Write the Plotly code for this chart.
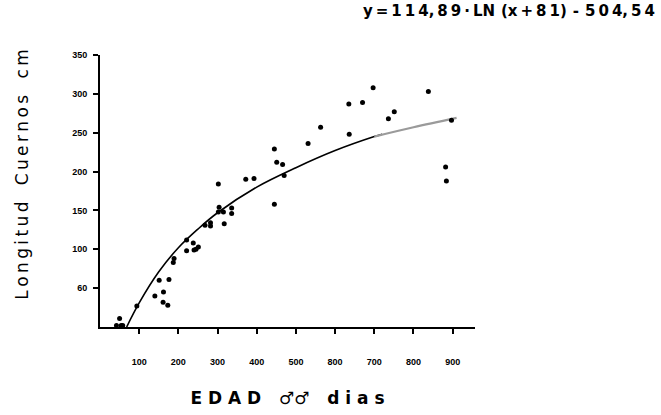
import plotly.graph_objects as go

# observed points (age in days, horn length in cm)
age_days = [42, 50, 54, 58, 94, 140, 151, 162, 161, 173, 176, 187, 189, 221, 221,
            238, 240, 245, 251, 268, 282, 282, 302, 302, 304, 315, 317, 336, 336,
            372, 393, 445, 445, 451, 466, 470, 531, 563, 636, 635, 670, 697, 736,
            751, 838, 882, 884, 897]
horn_cm = [2, 11, 2, 2, 27, 40, 60, 45, 32, 28, 61, 83, 88, 98, 112,
           108, 99, 100, 103, 131, 134, 130, 184, 148, 154, 148, 133, 153, 146,
           190, 191, 158, 229, 212, 209, 195, 236, 257, 248, 287, 289, 308, 268,
           277, 303, 206, 188, 266]

# fitted curve as drawn
curve_x = [68, 100, 150, 200, 250, 300, 400, 500, 600, 700, 720]
curve_y = [0, 31, 71, 102, 126, 147, 180, 205, 227, 245, 248]
curve_gray_x = [700, 800, 910]
curve_gray_y = [245, 257, 269]

x_tickvals = [100, 200, 300, 400, 500, 600, 700, 800, 900]
x_ticktext = ["100", "200", "300", "400", "500", "800", "700", "800", "900"]
y_tickvals = [50, 100, 150, 200, 250, 300, 350]
y_ticktext = ["60", "100", "150", "200", "250", "300", "350"]

T = "\u2009"
equation = ("y" + T + "=" + T + "1" + T + "1" + T + "4," + T + "8" + T + "9" + T + "·" + T +
            "LN" + T + T + "(x" + T + "+" + T + "8" + T + "1)" + T + T + "-" + T + T +
            "5" + T + "0" + T + "4," + T + "5" + T + "4")
x_title = "E D A D   ♂♂   d i a s"
y_title = T.join("Longitud") + "   " + T.join("Cuernos") + "   " + T.join("cm")

fig = go.Figure()
fig.add_trace(go.Scatter(x=curve_x, y=curve_y, mode="lines",
                         line=dict(color="black", width=1.6, shape="spline"),
                         hoverinfo="skip"))
fig.add_trace(go.Scatter(x=curve_gray_x, y=curve_gray_y, mode="lines",
                         line=dict(color="#9a9a9a", width=2.2, shape="spline"),
                         hoverinfo="skip"))
fig.add_trace(go.Scatter(x=age_days, y=horn_cm, mode="markers",
                         marker=dict(color="black", size=5, symbol="circle")))

tickfont = dict(family="Liberation Sans Narrow, Liberation Sans", size=9,
                color="black", weight="bold")

fig.update_layout(
    width=661, height=415,
    margin=dict(l=100, r=186, t=55, b=88),
    paper_bgcolor="white", plot_bgcolor="white",
    showlegend=False,
    xaxis=dict(range=[0, 957], tickvals=x_tickvals, ticktext=x_ticktext,
               automargin=False,
               showgrid=False, zeroline=False, showline=True, linecolor="black",
               linewidth=2, ticks="outside", ticklen=5, tickwidth=1.5,
               tickcolor="black", tickfont=tickfont, ticklabelstandoff=20,
               title=dict(text=x_title, standoff=26,
                          font=dict(family="DejaVu Sans", size=17, color="black",
                                    weight="bold"))),
    yaxis=dict(range=[0, 350], tickvals=y_tickvals, ticktext=y_ticktext,
               automargin=False,
               showgrid=False, zeroline=False, showline=True, linecolor="black",
               linewidth=2, ticks="outside", ticklen=5, tickwidth=1.5,
               tickcolor="black", tickfont=tickfont, ticklabelstandoff=4),
    annotations=[
        dict(text=equation, xref="paper", yref="paper", x=1.485, y=1.16,
             xanchor="right", yanchor="middle", showarrow=False,
             font=dict(family="DejaVu Sans", size=15, color="black", weight="bold")),
        dict(text=y_title, xref="paper", yref="paper", x=-0.208, y=0.56,
             xanchor="center", yanchor="middle", showarrow=False, textangle=-90,
             font=dict(family="DejaVu Sans", size=17, color="black")),
    ],
)

fig.write_html("out.html")
